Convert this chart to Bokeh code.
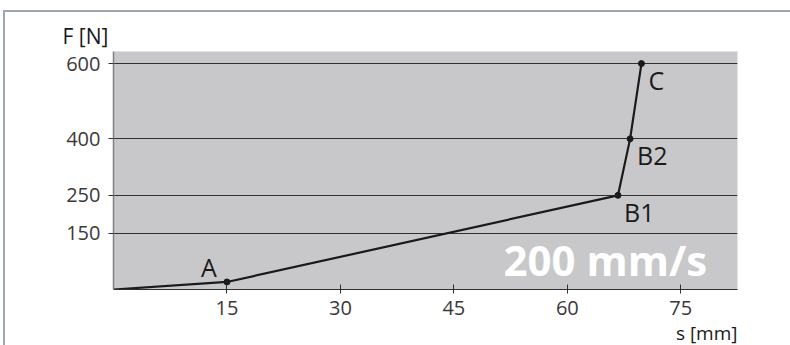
from bokeh.plotting import figure
from bokeh.models import Range1d, FixedTicker, ColumnDataSource, Label, Title
from bokeh.core.properties import value
from bokeh.embed import file_html
from bokeh.resources import INLINE

# data
s_mm = [0, 15, 66.7, 68.3, 69.8]
F_N = [0, 20, 250, 400, 600]
pt_s = [15, 66.7, 68.3, 69.8]
pt_F = [20, 250, 400, 600]
pt_names = ["A", "B1", "B2", "C"]
x_ticks = [15, 30, 45, 60, 75]
y_ticks = [150, 250, 400, 600]
speed_label = "200 mm/s"
y_title = "F [N]"
x_title = "s [mm]"

FONT = "Open Sans"
FRAME_C = "#9aa8af"

p = figure(width=790, height=345, output_backend="svg", toolbar_location=None,
           x_range=Range1d(0, 82.5), y_range=Range1d(0, 632),
           min_border_left=113, min_border_top=51, min_border_right=53, min_border_bottom=55)
p.background_fill_color = "#c8c8ca"
p.border_fill_color = None
p.outline_line_color = None
p.styles = {
    "background-color": "white",
    "background-image": f"linear-gradient({FRAME_C},{FRAME_C}), linear-gradient({FRAME_C},{FRAME_C})",
    "background-size": "786px 2px, 2px 335px",
    "background-position": "4px 10px, 3px 10px",
    "background-repeat": "no-repeat",
}

p.xgrid.grid_line_color = None
p.ygrid.ticker = FixedTicker(ticks=y_ticks)
p.ygrid.grid_line_color = "#303030"
p.ygrid.grid_line_width = 1.2

p.xaxis.ticker = FixedTicker(ticks=x_ticks)
p.yaxis.ticker = FixedTicker(ticks=y_ticks)
p.xaxis.minor_tick_line_color = None
p.yaxis.minor_tick_line_color = None

p.xaxis.axis_line_color = "#303030"
p.xaxis.axis_line_width = 1.2
p.xaxis.major_tick_line_color = "#303030"
p.xaxis.major_tick_in = 5
p.xaxis.major_tick_out = 4
p.xaxis.major_label_standoff = 7

p.yaxis.axis_line_color = "#808080"
p.yaxis.axis_line_width = 1.5
p.yaxis.major_tick_line_color = "#303030"
p.yaxis.major_tick_in = 0
p.yaxis.major_tick_out = 5
p.yaxis.major_label_standoff = 8

for ax in (p.xaxis, p.yaxis):
    ax.major_label_text_font = FONT
    ax.major_label_text_font_size = "20px"
    ax.major_label_text_color = "#3a3a3a"

# curve
p.line(s_mm, F_N, line_color="#1a1a1a", line_width=2.2)
p.scatter(pt_s, pt_F, size=6, color="#1a1a1a")

src = ColumnDataSource(dict(x=pt_s, y=pt_F, t=pt_names,
                            dx=[-18, 6, 7, 7], dy=[-15, 17, 16, 16],
                            al=["center", "left", "left", "left"]))
p.text(x="x", y="y", text="t", source=src, x_offset="dx", y_offset="dy",
       text_align="al", text_baseline="alphabetic",
       text_font=value(FONT), text_font_size="25px", text_color="#1a1a1a")

p.add_layout(Label(x=78.5, y=80, text=speed_label, text_align="right",
                   text_baseline="alphabetic", text_font=FONT, text_font_size="42px",
                   text_font_style="bold", text_color="white"))

p.add_layout(Title(text=y_title, align="left", offset=-51, standoff=4,
                   text_font=FONT, text_font_size="21px", text_font_style="normal",
                   text_color="#1a1a1a"), "above")
p.add_layout(Title(text=x_title, align="right", offset=0, standoff=0,
                   text_font=FONT, text_font_size="19px", text_font_style="normal",
                   text_color="#1a1a1a"), "below")

open("out.html", "w").write(file_html(p, INLINE))
